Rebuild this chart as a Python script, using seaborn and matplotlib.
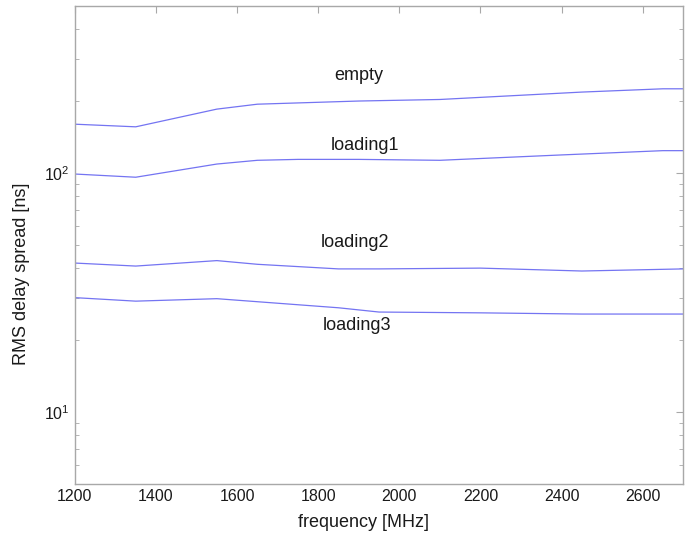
import pandas as pd
import matplotlib
matplotlib.use("Agg")
import matplotlib.pyplot as plt
import seaborn as sns

# RMS delay spread vs frequency
freq_empty = [1200, 1350, 1550, 1650, 1900, 2100, 2450, 2650, 2700]
rms_empty = [160, 156, 185, 194, 200, 203, 218, 225, 225]

freq_load1 = [1200, 1350, 1550, 1650, 1750, 1900, 2100, 2400, 2650, 2700]
rms_load1 = [99, 96, 109, 113, 114, 114, 113, 119, 124, 124]

freq_load2 = [1200, 1350, 1550, 1650, 1850, 1950, 2200, 2450, 2700]
rms_load2 = [42, 40.8, 43, 41.5, 39.7, 39.7, 40, 38.9, 39.7]

freq_load3 = [1200, 1350, 1550, 1850, 1950, 2200, 2450, 2700]
rms_load3 = [30.1, 29.1, 29.8, 27.3, 26.2, 26.0, 25.7, 25.7]

series_names = ["empty", "loading1", "loading2", "loading3"]
label_x = [1900, 1915, 1890, 1895]
label_y = [255, 130, 51, 23.1]

frames = []
for name, f, r in zip(series_names,
                      [freq_empty, freq_load1, freq_load2, freq_load3],
                      [rms_empty, rms_load1, rms_load2, rms_load3]):
    frames.append(pd.DataFrame({"freq": f, "rms": r, "case": name}))
df = pd.concat(frames, ignore_index=True)

sns.set_style("white")
plt.rcParams["font.family"] = ["Liberation Sans", "DejaVu Sans"]
plt.rcParams["mathtext.fontset"] = "custom"
plt.rcParams["mathtext.rm"] = "Liberation Sans"

line_col = "#7474f2"
txt_col = "#1a1a1a"
fig, ax = plt.subplots(figsize=(7, 5.36), dpi=100)
fig.subplots_adjust(left=0.107, right=0.976, top=0.989, bottom=0.097)

sns.lineplot(data=df, x="freq", y="rms", hue="case",
             palette=[line_col] * 4, legend=False, linewidth=0.9,
             estimator=None, sort=False, ax=ax)

ax.set_yscale("log")
ax.set_xlim(1200, 2700)
ax.set_ylim(5, 500)
ax.set_xticks(range(1200, 2700, 200))

for name, x, y in zip(series_names, label_x, label_y):
    ax.text(x, y, name, ha="center", va="center", fontsize=13, color=txt_col)

ax.set_xlabel("frequency [MHz]", fontsize=13, color=txt_col)
ax.set_ylabel("RMS delay spread [ns]", fontsize=13, color=txt_col)
ax.xaxis.set_label_coords(0.474, -0.062)
ax.yaxis.set_label_coords(-0.074, 0.44)

for s in ax.spines.values():
    s.set_color("#a8a8a8")
    s.set_linewidth(1)
ax.tick_params(which="both", direction="in", top=True, right=True,
               color="#a8a8a8", labelsize=11.5, labelcolor=txt_col)
ax.tick_params(which="major", length=5)
ax.tick_params(which="minor", length=3, left=True, right=True)

fig.savefig("out.png", dpi=100)
